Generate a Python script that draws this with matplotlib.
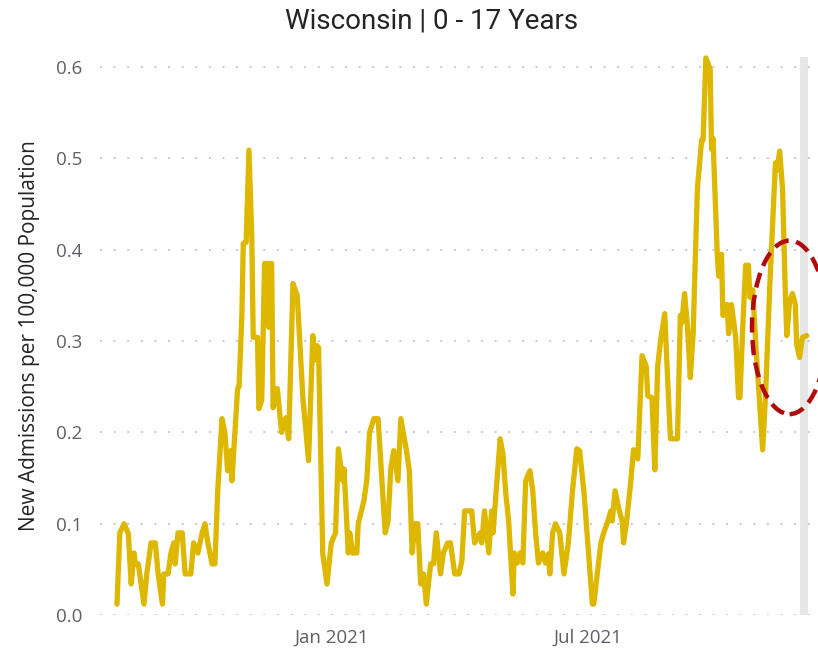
import matplotlib
matplotlib.use("Agg")
import matplotlib.pyplot as plt
import matplotlib.dates as mdates
from matplotlib.patches import Ellipse
import pandas as pd

title = "Wisconsin | 0 - 17 Years"
y_label = "New Admissions per 100,000 Population"

# new admissions per 100k (vertices of the line)
dates = [
    "2020-08-03", "2020-08-05", "2020-08-08", "2020-08-11", "2020-08-13", "2020-08-15",
    "2020-08-16", "2020-08-18", "2020-08-22", "2020-08-24", "2020-08-27", "2020-08-30",
    "2020-09-01", "2020-09-04", "2020-09-05", "2020-09-08", "2020-09-10", "2020-09-12",
    "2020-09-13", "2020-09-15", "2020-09-18", "2020-09-20", "2020-09-24", "2020-09-26",
    "2020-09-29", "2020-10-02", "2020-10-04", "2020-10-06", "2020-10-09", "2020-10-11",
    "2020-10-13", "2020-10-16", "2020-10-18", "2020-10-20", "2020-10-22", "2020-10-23",
    "2020-10-27", "2020-10-28", "2020-10-30", "2020-10-31", "2020-11-02", "2020-11-04",
    "2020-11-06", "2020-11-07", "2020-11-10", "2020-11-11", "2020-11-13", "2020-11-15",
    "2020-11-16", "2020-11-17", "2020-11-18", "2020-11-19", "2020-11-20", "2020-11-21",
    "2020-11-24", "2020-11-27", "2020-11-30", "2020-12-02", "2020-12-05", "2020-12-08",
    "2020-12-12", "2020-12-16", "2020-12-19", "2020-12-20", "2020-12-22", "2020-12-23",
    "2020-12-26", "2020-12-29", "2021-01-01", "2021-01-04", "2021-01-06", "2021-01-09",
    "2021-01-10", "2021-01-13", "2021-01-14", "2021-01-16", "2021-01-19", "2021-01-20",
    "2021-01-24", "2021-01-26", "2021-01-28", "2021-01-31", "2021-02-03", "2021-02-08",
    "2021-02-10", "2021-02-12", "2021-02-14", "2021-02-17", "2021-02-19", "2021-02-23",
    "2021-02-25", "2021-02-27", "2021-03-01", "2021-03-03", "2021-03-05", "2021-03-07",
    "2021-03-09", "2021-03-12", "2021-03-14", "2021-03-16", "2021-03-19", "2021-03-21",
    "2021-03-24", "2021-03-26", "2021-03-29", "2021-04-01", "2021-04-03", "2021-04-05",
    "2021-04-10", "2021-04-12", "2021-04-16", "2021-04-17", "2021-04-19", "2021-04-22",
    "2021-04-24", "2021-04-25", "2021-04-30", "2021-05-02", "2021-05-04", "2021-05-06",
    "2021-05-09", "2021-05-10", "2021-05-12", "2021-05-14", "2021-05-16", "2021-05-18",
    "2021-05-21", "2021-05-23", "2021-05-25", "2021-05-27", "2021-05-30", "2021-06-01",
    "2021-06-03", "2021-06-04", "2021-06-06", "2021-06-08", "2021-06-11", "2021-06-14",
    "2021-06-17", "2021-06-20", "2021-06-23", "2021-06-25", "2021-06-28", "2021-07-04",
    "2021-07-05", "2021-07-10", "2021-07-12", "2021-07-15", "2021-07-17", "2021-07-18",
    "2021-07-20", "2021-07-23", "2021-07-25", "2021-07-26", "2021-07-28", "2021-07-31",
    "2021-08-02", "2021-08-05", "2021-08-08", "2021-08-11", "2021-08-12", "2021-08-15",
    "2021-08-17", "2021-08-19", "2021-08-21", "2021-08-24", "2021-08-26", "2021-08-28",
    "2021-08-31", "2021-09-02", "2021-09-04", "2021-09-05", "2021-09-07", "2021-09-09",
    "2021-09-11", "2021-09-13", "2021-09-16", "2021-09-19", "2021-09-20", "2021-09-22",
    "2021-09-25", "2021-09-26", "2021-09-27", "2021-09-30", "2021-10-01", "2021-10-03",
    "2021-10-04", "2021-10-07", "2021-10-08", "2021-10-10", "2021-10-13", "2021-10-15",
    "2021-10-16", "2021-10-18", "2021-10-20", "2021-10-22", "2021-10-23", "2021-10-25",
    "2021-10-27", "2021-10-29", "2021-11-01", "2021-11-03", "2021-11-06", "2021-11-10",
    "2021-11-11", "2021-11-13", "2021-11-15", "2021-11-17", "2021-11-18", "2021-11-20",
    "2021-11-22", "2021-11-24", "2021-11-25", "2021-11-27", "2021-11-29", "2021-12-02",
]
values = [
    0.012, 0.090, 0.100, 0.089, 0.034, 0.068,
    0.056, 0.056, 0.012, 0.045, 0.079, 0.079,
    0.045, 0.012, 0.045, 0.045, 0.068, 0.079,
    0.056, 0.090, 0.090, 0.045, 0.045, 0.079,
    0.068, 0.090, 0.100, 0.079, 0.056, 0.056,
    0.136, 0.215, 0.200, 0.158, 0.180, 0.147,
    0.248, 0.250, 0.328, 0.407, 0.408, 0.509,
    0.414, 0.304, 0.304, 0.226, 0.235, 0.385,
    0.330, 0.385, 0.315, 0.385, 0.385, 0.227,
    0.248, 0.200, 0.216, 0.193, 0.363, 0.350,
    0.238, 0.169, 0.306, 0.279, 0.295, 0.293,
    0.067, 0.034, 0.079, 0.090, 0.182, 0.147,
    0.160, 0.068, 0.090, 0.068, 0.068, 0.100,
    0.125, 0.147, 0.200, 0.215, 0.215, 0.090,
    0.103, 0.161, 0.180, 0.147, 0.215, 0.180,
    0.158, 0.068, 0.100, 0.100, 0.034, 0.045,
    0.012, 0.056, 0.056, 0.090, 0.045, 0.068,
    0.079, 0.079, 0.045, 0.045, 0.059, 0.114,
    0.114, 0.079, 0.090, 0.079, 0.114, 0.068,
    0.114, 0.090, 0.193, 0.176, 0.133, 0.103,
    0.023, 0.068, 0.057, 0.068, 0.057, 0.147,
    0.158, 0.136, 0.090, 0.057, 0.068, 0.057,
    0.067, 0.045, 0.090, 0.100, 0.090, 0.045,
    0.078, 0.136, 0.182, 0.180, 0.136, 0.012,
    0.012, 0.079, 0.090, 0.103, 0.114, 0.103,
    0.136, 0.114, 0.103, 0.079, 0.101, 0.145,
    0.181, 0.171, 0.284, 0.272, 0.240, 0.238,
    0.159, 0.272, 0.300, 0.330, 0.260, 0.193,
    0.193, 0.193, 0.328, 0.320, 0.352, 0.316,
    0.260, 0.308, 0.467, 0.520, 0.520, 0.610,
    0.598, 0.510, 0.522, 0.395, 0.371, 0.395,
    0.328, 0.340, 0.308, 0.340, 0.304, 0.238,
    0.238, 0.316, 0.383, 0.383, 0.348, 0.356,
    0.300, 0.252, 0.181, 0.240, 0.360, 0.495,
    0.487, 0.508, 0.467, 0.352, 0.306, 0.344,
    0.352, 0.340, 0.296, 0.282, 0.304, 0.306,
]

y_ticks = [0.0, 0.1, 0.2, 0.3, 0.4, 0.5, 0.6]
x_ticks = ["2021-01-01", "2021-07-01"]
x_tick_labels = ["Jan 2021", "Jul 2021"]

# most recent (incomplete) week, shaded grey
recent_start, recent_end = "2021-11-27", "2021-12-03"

# red dashed circle drawn around the latest values
circle_center = ("2021-11-20", 0.315)
circle_days, circle_height = 53, 0.19

line_color = "#DDB700"
text_color = "#5F6067"

fig = plt.figure(figsize=(8.18, 6.5), dpi=100)
ax = fig.add_axes([0.1222, 0.0538, 0.8778, 0.8585])

x = pd.to_datetime(dates)
ax.axvspan(pd.Timestamp(recent_start), pd.Timestamp(recent_end),
           color="#E6E6E6", lw=0, zorder=0)
ax.plot(x, values, color=line_color, lw=3.8, solid_joinstyle="round",
        solid_capstyle="round", zorder=3, clip_on=False)

cx = mdates.date2num(pd.Timestamp(circle_center[0]))
ell = Ellipse((cx, circle_center[1]), circle_days, circle_height,
              fill=False, edgecolor="#B00A0A", lw=3.2, linestyle=(0, (3.4, 1.7)),
              zorder=5, clip_on=False)
ax.add_patch(ell)

ax.set_xlim(pd.Timestamp("2020-07-22"), pd.Timestamp("2021-12-10"))
ax.set_ylim(0, 0.611)

ax.set_yticks(y_ticks)
ax.set_yticklabels([f"{v:.1f}" for v in y_ticks])
ax.set_xticks(pd.to_datetime(x_ticks))
ax.set_xticklabels(x_tick_labels)

for s in ax.spines.values():
    s.set_visible(False)
ax.tick_params(length=0, labelsize=13.5, colors=text_color)
ax.tick_params(axis="y", pad=13)
ax.tick_params(axis="x", pad=10)
for lbl in ax.get_xticklabels() + ax.get_yticklabels():
    lbl.set_fontfamily("Open Sans")

ax.yaxis.grid(True, color="#C8C8C8", lw=1.4, linestyle=(0, (1, 6)))
ax.xaxis.grid(False)
ax.set_axisbelow(True)

ax.set_ylabel(y_label, fontsize=15, color="#252423", family="Open Sans")
ax.yaxis.set_label_coords(-0.084, 0.5)

fig.text(0.527, 0.988, title, ha="center", va="top", fontsize=20,
         color="#252423", family="Roboto")

fig.savefig("out.png", dpi=100)
